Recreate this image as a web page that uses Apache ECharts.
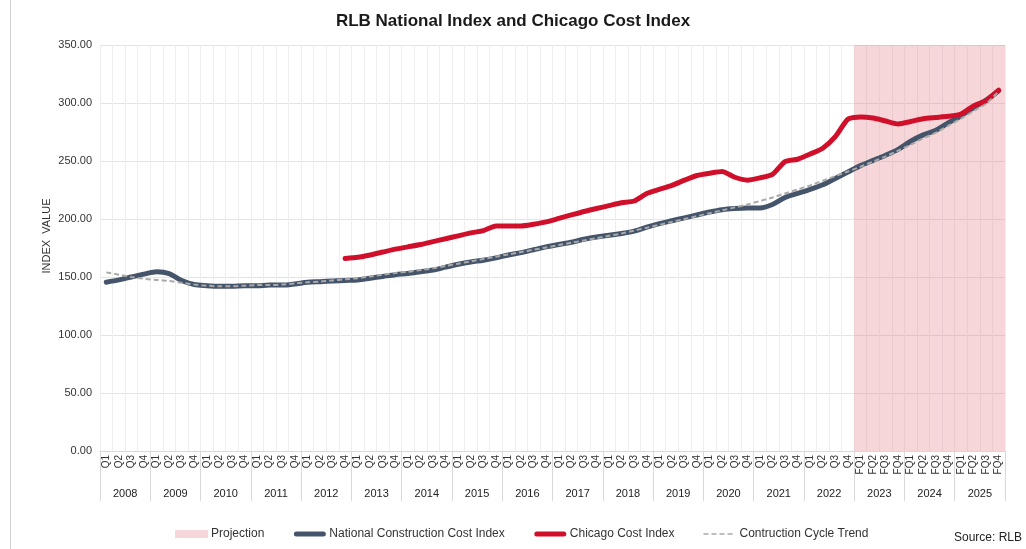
<!DOCTYPE html>
<html>
<head>
<meta charset="utf-8">
<script src="https://cdn.jsdelivr.net/npm/echarts@6/dist/echarts.min.js"></script>
<style>html,body{margin:0;padding:0;background:#fff;}#c{width:1026px;height:549px;}</style>
</head>
<body>
<div id="c"></div>
<script>
var years = ['2008','2009','2010','2011','2012','2013','2014','2015','2016','2017','2018','2019','2020','2021','2022','2023','2024','2025'];
var quarterLabels = [];
var categories = [];
years.forEach(function (y) {
  var proj = Number(y) >= 2023;
  ['1','2','3','4'].forEach(function (q) {
    var l = (proj ? 'FQ' : 'Q') + q;
    quarterLabels.push(l);
    categories.push(y + ' ' + l);
  });
});

var national = [
  145.5, 147.5, 150, 152.5,
  154.5, 153, 147, 143.5,
  142.5, 142, 142, 142.5,
  142.5, 143, 143, 144,
  145.5, 146, 146.5, 147,
  147.5, 149, 150.5, 152,
  153, 154.5, 156, 158.5,
  161, 163, 164.5, 166.5,
  169, 171, 173.5, 176,
  178, 180, 182.5, 184.5,
  186, 187.5, 189.5, 193,
  196, 198.5, 201, 203.5,
  206, 208, 209, 209.5,
  209.5, 212.5, 218.5, 222,
  225.5, 229.5, 235, 240.5,
  246, 250.5, 255, 260,
  267, 272.5, 276.5, 283,
  289, 296, 302.5, 310.5
];

var chicago = [
  null, null, null, null,
  null, null, null, null,
  null, null, null, null,
  null, null, null, null,
  null, null, null, 166,
  167, 169, 171.5, 174,
  176, 178, 180.5, 183,
  185.5, 188, 190, 194,
  194, 194, 195.5, 197.5,
  200.5, 203.5, 206.5, 209,
  211.5, 214, 215.5, 222,
  225.5, 229, 233.5, 237.5,
  239.5, 241, 236, 233.5,
  235.5, 238.5, 249.5, 251.5,
  256, 261, 271, 286,
  288, 287, 284.5, 282,
  284, 286.5, 287.5, 288.5,
  290.5, 297.5, 302, 311
];

var trend = [
  154, 152, 150, 148.5,
  147.5, 146.5, 145, 143.5,
  142.5, 142, 142, 142.5,
  143, 143, 143.5, 144.5,
  145.5, 146, 147, 148,
  149, 150.5, 152, 153.5,
  154.5, 156, 157.5, 159.5,
  161.5, 163.5, 165.5, 167.5,
  169.5, 171.5, 173.5, 175.5,
  177.5, 179.5, 181.5, 183.5,
  185.5, 187.5, 190, 192.5,
  195, 197.5, 200, 202.5,
  205, 207.5, 210, 212.5,
  215.5, 218.5, 222, 225.5,
  229, 233, 237, 241,
  245, 249.5, 254, 259,
  264, 269.5, 274.5, 280.5,
  286.5, 293, 299.5, 310
];

var projectionStart = 60;
var projectionTop = 350;
var projection = categories.map(function (c, i) { return i >= projectionStart ? projectionTop : null; });

var FONT = 'Liberation Sans, Arial, sans-serif';

var ICON_LINE = 'path://M0,0M33,8M3,1.5h27a2.5,2.5 0 0 1 0,5h-27a2.5,2.5 0 0 1 0,-5z';
var ICON_DASH = 'path://M0,0M33,8M0,3.2h5v1.6h-5zM8,3.2h5v1.6h-5zM16,3.2h5v1.6h-5zM24,3.2h5v1.6h-5z';

var chart = echarts.init(document.getElementById('c'), null, {renderer: 'canvas'});
chart.setOption({
  animation: false,
  backgroundColor: '#ffffff',
  title: {
    text: 'RLB National Index and Chicago Cost Index',
    left: 'center', top: 8,
    textStyle: {fontFamily: FONT, fontSize: 17, fontWeight: 'bold', color: '#1a1a1a'}
  },
  legend: {
    bottom: 4, left: 170,
    itemWidth: 33, itemHeight: 8, itemGap: 29,
    textStyle: {fontFamily: FONT, fontSize: 12, color: '#333', padding: [0, 0, 0, -2]},
    data: [
      {name: 'Projection', icon: 'rect'},
      {name: 'National Construction Cost Index', icon: ICON_LINE},
      {name: 'Chicago Cost Index', icon: ICON_LINE},
      {name: 'Contruction Cycle Trend', icon: ICON_DASH}
    ]
  },
  graphic: [
    {type: 'line', shape: {x1: 10.5, y1: 0, x2: 10.5, y2: 549}, style: {stroke: '#d0d0d0', lineWidth: 1}},
    {type: 'text', x: 47, y: 236, rotation: Math.PI / 2,
      style: {text: 'INDEX  VALUE', font: '11px ' + FONT, fill: '#333', align: 'center', verticalAlign: 'middle'}},
    {type: 'text', right: 4, top: 532, style: {text: 'Source: RLB', font: '12px ' + FONT, fill: '#222'}}
  ],
  grid: {left: 100, right: 21, top: 45, bottom: 98},
  xAxis: [
    {
      type: 'category', data: quarterLabels, boundaryGap: true,
      axisLine: {show: true, lineStyle: {color: '#d9d9d9'}},
      axisTick: {show: false},
      splitLine: {show: true, interval: 0, lineStyle: {color: '#eeeeee', width: 1}},
      axisLabel: {interval: 0, rotate: 90, fontFamily: FONT, fontSize: 10, color: '#333', margin: 4}
    },
    {
      type: 'category', data: years, boundaryGap: true, position: 'bottom',
      axisLine: {show: false},
      axisTick: {show: true, length: 50, interval: 0, lineStyle: {color: '#d9d9d9'}},
      axisLabel: {interval: 0, fontFamily: FONT, fontSize: 11, color: '#222', margin: 37},
      splitLine: {show: false}
    }
  ],
  yAxis: {
    type: 'value', min: 0, max: 350, interval: 50,
    axisLine: {show: false}, axisTick: {show: false},
    splitLine: {lineStyle: {color: '#e4e4e4'}},
    axisLabel: {fontFamily: FONT, fontSize: 11, color: '#333', margin: 8,
      formatter: function (v) { return v.toFixed(2); }}
  },
  series: [
    {
      name: 'Projection', type: 'bar', data: projection, xAxisIndex: 0,
      barCategoryGap: '0%', barWidth: '100%', z: 1,
      itemStyle: {color: 'rgba(225,120,130,0.3)'}
    },
    {
      name: 'National Construction Cost Index', type: 'line', data: national,
      symbol: 'none', smooth: 0.3, z: 3,
      lineStyle: {color: '#44546a', width: 5, cap: 'round', join: 'round'},
      itemStyle: {color: '#44546a'}
    },
    {
      name: 'Chicago Cost Index', type: 'line', data: chicago,
      symbol: 'none', smooth: 0.2, z: 4,
      lineStyle: {color: '#d0102b', width: 5, cap: 'round', join: 'round'},
      itemStyle: {color: '#d0102b'}
    },
    {
      name: 'Contruction Cycle Trend', type: 'line', data: trend,
      symbol: 'none', smooth: 0.3, z: 5,
      lineStyle: {color: '#a9a9a9', width: 2, type: [5, 3]},
      itemStyle: {color: '#a9a9a9'}
    }
  ]
});
</script>
</body>
</html>
